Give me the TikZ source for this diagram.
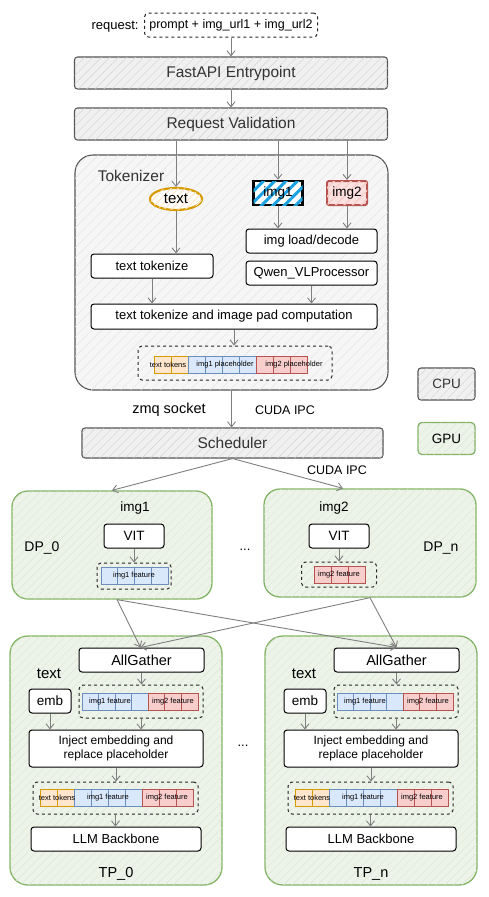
\documentclass[tikz,border=0pt]{standalone}
\usepackage{fontspec}
\setmainfont{Liberation Sans}
\usetikzlibrary{arrows.meta,patterns.meta,shapes.geometric}

\definecolor{linegray}{HTML}{7F7F7F}
\definecolor{framegray}{HTML}{555555}
\definecolor{barfill}{HTML}{F0F0F0}
\definecolor{tokfill}{HTML}{F6F6F6}
\definecolor{greenline}{HTML}{82B366}
\definecolor{greenfill}{HTML}{EEF3EA}
\definecolor{bluefill}{HTML}{DAE8FC}
\definecolor{blueline}{HTML}{6C8EBF}
\definecolor{redfill}{HTML}{F8CECC}
\definecolor{redline}{HTML}{B85450}
\definecolor{orangefill}{HTML}{FFE6CC}
\definecolor{orangeline}{HTML}{D79B00}
\definecolor{stripeblue}{HTML}{1BA1E2}

\begin{document}
\begin{tikzpicture}[x=1pt, y=-1pt]

\tikzstyle{every node} = [inner sep=0pt, font=\fontsize{13}{15}\selectfont]
\tikzstyle{arr} = [draw=linegray, line width=0.9, -{Straight Barb[length=5pt,width=8pt]}]
\tikzstyle{graybar} = [draw=framegray, line width=1.1, rounded corners=3, fill=barfill,
  postaction={pattern={Lines[angle=45,distance=6pt,line width=0.4pt]}, pattern color=gray!35},
  font=\fontsize{15.5}{18}\selectfont, text=black!80]
\tikzstyle{tokbox} = [draw=framegray, line width=1.1, rounded corners=18, fill=tokfill,
  postaction={pattern={Lines[angle=45,distance=7pt,line width=0.4pt]}, pattern color=gray!22}]
\tikzstyle{greenbox} = [draw=greenline, line width=1.3, rounded corners=16, fill=greenfill,
  postaction={pattern={Lines[angle=45,distance=6pt,line width=0.4pt]}, pattern color=greenline!30}]
\tikzstyle{wbox} = [draw=black, line width=1, rounded corners=3, fill=white, minimum height=24,
  font=\fontsize{13}{15}\selectfont]
\tikzstyle{dbox} = [draw=black!85, line width=1, dashed, rounded corners=4]
\tikzstyle{bluecell} = [draw=blueline, fill=bluefill, line width=0.8]
\tikzstyle{redcell} = [draw=redline, fill=redfill, line width=0.8]
\tikzstyle{orangecell} = [draw=orangeline, fill=orangefill, line width=0.8]
\tikzstyle{tiny} = [font=\fontsize{7.5}{9}\selectfont]

\useasboundingbox (0,0) rectangle (488,897);

% request and front end
\node (reqlbl) at (115,27) {request:};
\node[dbox, minimum width=173, minimum height=24, font=\fontsize{12.5}{15}\selectfont] (req) at (231,25) {prompt + img\_url1 + img\_url2};
\node[graybar, minimum width=313, minimum height=32] (fapi) at (231,73) {FastAPI Entrypoint};
\node[graybar, minimum width=313, minimum height=32] (rv) at (231,124) {Request Validation};

\draw[arr] (req) -- (fapi);
\draw[arr] (fapi) -- (rv);

% tokenizer
\node[tokbox, minimum width=313, minimum height=235] (tok) at (231.5,272.5) {};
\node[text=black!80, font=\fontsize{15.5}{18}\selectfont] (toklbl) at (131,176) {Tokenizer};

\node[ellipse, draw=orangeline, line width=2.2, fill=white, minimum width=52, minimum height=22,
  postaction={pattern={Lines[angle=45,distance=5pt,line width=1pt]}, pattern color=orangefill},
  font=\fontsize{15}{17}\selectfont] (txt) at (176,199) {text};
\node[draw=black, line width=2.4, fill=white, minimum width=49, minimum height=24,
  postaction={pattern={Lines[angle=45,distance=8pt,line width=3pt]}, pattern color=stripeblue},
  font=\fontsize{13.5}{15}\selectfont] (img1) at (278,193) {img1};
\node[draw=redline, line width=2, fill=redfill!60, minimum width=40, minimum height=24, rounded corners=2,
  postaction={pattern={Lines[angle=45,distance=6pt,line width=1.5pt]}, pattern color=redfill},
  font=\fontsize{13.5}{15}\selectfont] (img2) at (347,193) {img2};

\draw[arr] (rv.south -| txt) -- (txt);
\draw[arr] (rv.south -| img1) -- (img1);
\draw[arr] (rv.south -| img2) -- (img2);

\node[wbox, minimum width=122] (ttok) at (152,266) {text tokenize};
\node[wbox, minimum width=131] (imgld) at (311.5,241) {img load/decode};
\node[wbox, minimum width=131] (qwen) at (311.5,273) {Qwen\_VLProcessor};
\node[wbox, minimum width=286, minimum height=25] (tpad) at (234,316.5) {text tokenize and image pad computation};

\draw[arr] (txt) -- (txt |- ttok.north);
\draw[arr] (img1) -- (img1 |- imgld.north);
\draw[arr] (img2) -- (img2 |- imgld.north);
\draw[arr] (ttok) -- (ttok |- tpad.north);
\draw[arr] (qwen) -- (qwen |- tpad.north);

\node[dbox, minimum width=194, minimum height=34] (tstrip) at (235,363) {};
\draw[arr] (tpad) -- (tpad |- tstrip.north);
\foreach \i in {0,1} \draw[orangecell] (154+\i*17,356) rectangle ++(17,17);
\foreach \i in {0,...,3} \draw[bluecell] (188+\i*17,356) rectangle ++(17,17);
\foreach \i in {0,1,2} \draw[redcell] (256+\i*17,356) rectangle ++(17,17);
\node[tiny] (ttk) at (168,364.5) {text tokens};
\node[tiny] (i1ph) at (225,364.5) {img1 placeholder};
\node[tiny] (i2ph) at (294,364.5) {img2 placeholder};

% legend
\node[graybar, minimum width=57, minimum height=32, font=\fontsize{13.5}{16}\selectfont] (cpu) at (446.5,384) {CPU};
\node[greenbox, rounded corners=4, minimum width=57, minimum height=32, font=\fontsize{13.5}{16}\selectfont] (gpu) at (446.5,438.5) {GPU};

% scheduler
\node[graybar, minimum width=301, minimum height=30] (sched) at (232.5,443) {Scheduler};
\draw[arr] (tok.south) -- (tok.south |- sched.north);
\node[font=\fontsize{14.5}{17}\selectfont] (zmq) at (169,410) {zmq socket};
\node[font=\fontsize{12.5}{15}\selectfont] (ipc1) at (285,410) {CUDA IPC};

% data parallel vit
\node[greenbox, minimum width=200, minimum height=108] (dp0) at (112,545) {};
\node[greenbox, minimum width=212, minimum height=108] (dpn) at (370,543) {};
\draw[arr] (sched.south) -- (dp0.north);
\draw[arr] (sched.south) -- ([xshift=-27]dpn.north);
\node[font=\fontsize{12.5}{15}\selectfont] (ipc2) at (337,470) {CUDA IPC};

\node[font=\fontsize{13.5}{16}\selectfont] (dp0img) at (135,508) {img1};
\node[wbox, minimum width=60, font=\fontsize{13.5}{16}\selectfont] (vit0) at (134,536) {VIT};
\node[dbox, minimum width=74, minimum height=26] (f0) at (134,576) {};
\draw[arr] (vit0) -- (f0);
\foreach \i in {0,...,3} \draw[bluecell] (101+\i*16.75,567) rectangle ++(16.75,17);
\node[tiny] (f0lbl) at (134,575.5) {img1 feature};
\node[font=\fontsize{14}{16}\selectfont] (dp0lbl) at (42,548) {DP\_0};

\node[font=\fontsize{13}{15}\selectfont] (dots1) at (245,550) {...};

\node[font=\fontsize{13.5}{16}\selectfont] (dpnimg) at (334,508) {img2};
\node[wbox, minimum width=60, font=\fontsize{13.5}{16}\selectfont] (vitn) at (339,536) {VIT};
\node[dbox, minimum width=75, minimum height=25] (fn) at (339,574.5) {};
\draw[arr] (vitn) -- (fn);
\foreach \i in {0,1,2} \draw[redcell] (314+\i*17,566) rectangle ++(17,17);
\node[tiny] (fnlbl) at (339,574.5) {img2 feature};
\node[font=\fontsize{14}{16}\selectfont] (dpnlbl) at (441,548) {DP\_n};

% tensor parallel llm
\foreach \s/\n in {0/0, 255/n} {
\begin{scope}[xshift=\s]
\node[greenbox, rounded corners=18, minimum width=212, minimum height=249] (tp\n) at (116,760.5) {};
\node[wbox, minimum width=125, font=\fontsize{14.5}{17}\selectfont] (ag\n) at (141.5,660) {AllGather};
\node[font=\fontsize{15}{17}\selectfont] (tl\n) at (49,674) {text};
\node[wbox, minimum width=42, font=\fontsize{13.5}{16}\selectfont] (emb\n) at (50,701) {emb};
\node[dbox, minimum width=124, minimum height=33] (fa\n) at (141,701.5) {};
\foreach \i in {0,...,3} \draw[bluecell] (82+\i*16.5,693) rectangle ++(16.5,17);
\foreach \i in {0,1,2} \draw[redcell] (148+\i*16.7,693) rectangle ++(16.7,17);
\node[tiny] (fa1\n) at (110,701.5) {img1 feature};
\node[tiny] (fa2\n) at (173,701.5) {img2 feature};
\node[wbox, minimum width=174, minimum height=37, align=center, font=\fontsize{12}{14}\selectfont]
  (inj\n) at (116,748.5) {Inject embedding and\\replace placeholder};
\node[dbox, minimum width=165, minimum height=32] (fb\n) at (115.5,798) {};
\foreach \i in {0,1} \draw[orangecell] (40+\i*17,789) rectangle ++(17,17);
\foreach \i in {0,...,3} \draw[bluecell] (74+\i*17,789) rectangle ++(17,17);
\foreach \i in {0,1,2} \draw[redcell] (142+\i*17,789) rectangle ++(17,17);
\node[tiny] (fb0\n) at (57,797.5) {text tokens};
\node[tiny] (fb1\n) at (108,797.5) {img1 feature};
\node[tiny] (fb2\n) at (167,797.5) {img2 feature};
\node[wbox, minimum width=170, font=\fontsize{13}{15}\selectfont] (llm\n) at (116,839) {LLM Backbone};
\node[font=\fontsize{14.5}{17}\selectfont] (tpl\n) at (116,874) {TP\_\n};

\draw[arr] (ag\n) -- (ag\n |- fa\n.north);
\draw[arr] (emb\n) -- (emb\n |- inj\n.north);
\draw[arr] (fa\n) -- (fa\n |- inj\n.north);
\draw[arr] (inj\n) -- (inj\n |- fb\n.north);
\draw[arr] (fb\n) -- (fb\n |- llm\n.north);
\end{scope}
}

\node[font=\fontsize{13}{15}\selectfont] (dots2) at (243,746) {...};

\draw[arr] ([xshift=5]dp0.south) -- ([xshift=-1]ag0.north);
\draw[arr] ([xshift=5]dp0.south) -- (agn.north);
\draw[arr] (dpn.south) -- ([xshift=-1]ag0.north);
\draw[arr] (dpn.south) -- (agn.north);
\end{tikzpicture}
\end{document}
